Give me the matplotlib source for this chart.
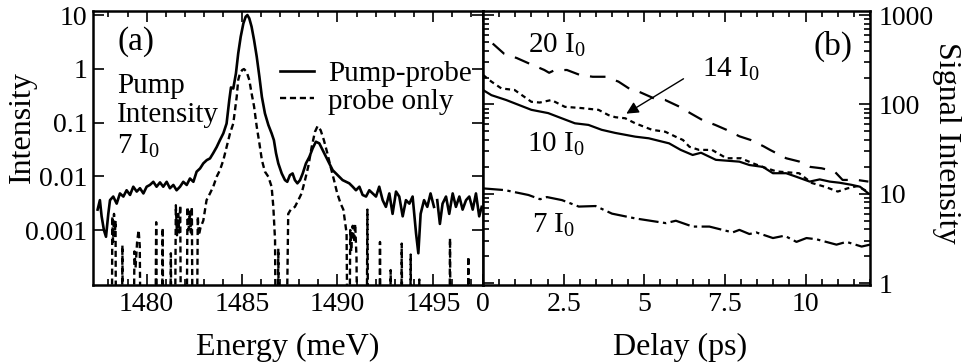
import numpy as np
import matplotlib
matplotlib.use('Agg')
import matplotlib.pyplot as plt
from matplotlib.ticker import FixedLocator, FixedFormatter, MultipleLocator, LogLocator, NullLocator, NullFormatter

plt.rcParams['font.family'] = ['Liberation Serif', 'DejaVu Serif']
plt.rcParams['mathtext.fontset'] = 'custom'
plt.rcParams['mathtext.rm'] = 'Liberation Serif'
plt.rcParams['mathtext.it'] = 'Liberation Serif:italic'

# --- (a) spectra: pump-probe (solid) ---
energy_pp = [1477.43, 1477.55, 1477.64, 1477.76, 1477.87, 1477.99, 1478.08, 1478.25, 1478.43, 1478.60,
             1478.78, 1478.95, 1479.13, 1479.30, 1479.48, 1479.65, 1479.83, 1480.00, 1480.17, 1480.35,
             1480.52, 1480.70, 1480.87, 1481.05, 1481.22, 1481.40, 1481.57, 1481.75, 1481.92, 1482.10,
             1482.27, 1482.45, 1482.62, 1482.80, 1482.97, 1483.15, 1483.32, 1483.49, 1483.67, 1483.84,
             1484.02, 1484.19, 1484.33, 1484.42, 1484.54, 1484.68, 1484.80, 1484.93, 1485.07, 1485.19,
             1485.28, 1485.38, 1485.50, 1485.63, 1485.77, 1485.91, 1486.04, 1486.20, 1486.38, 1486.55,
             1486.67, 1486.78, 1486.90, 1487.08, 1487.25, 1487.37, 1487.51, 1487.65, 1487.77, 1487.90,
             1488.04, 1488.18, 1488.35, 1488.53, 1488.70, 1488.87, 1489.05, 1489.22, 1489.40, 1489.57,
             1489.75, 1489.92, 1490.10, 1490.27, 1490.45, 1490.62, 1490.80, 1490.97, 1491.15, 1491.32,
             1491.50, 1491.67, 1491.85, 1492.02, 1492.19, 1492.37, 1492.54, 1492.72, 1492.89, 1493.07,
             1493.24, 1493.42, 1493.59, 1493.77, 1493.94, 1494.12, 1494.24, 1494.36, 1494.54, 1494.71,
             1494.88, 1495.06, 1495.15, 1495.23, 1495.37, 1495.51, 1495.69, 1495.86, 1496.04, 1496.21,
             1496.39, 1496.56, 1496.74, 1496.91, 1497.09, 1497.26, 1497.43, 1497.56]
int_pp = [0.0024, 0.0036, 0.0018, 0.0010, 0.00075, 0.0020, 0.0036, 0.0042, 0.0031, 0.0048,
          0.0042, 0.0055, 0.0045, 0.0064, 0.0052, 0.0060, 0.0048, 0.0064, 0.0069, 0.0079,
          0.0064, 0.0077, 0.0064, 0.0079, 0.0060, 0.0069, 0.0055, 0.0064, 0.0079, 0.0069,
          0.0091, 0.0079, 0.0122, 0.014, 0.0174, 0.020, 0.0215, 0.027, 0.035, 0.047,
          0.063, 0.096, 0.26, 0.45, 0.43, 0.82, 1.94, 3.95, 7.0, 9.3,
          10.0, 8.67, 6.07, 3.43, 1.68, 0.71, 0.30, 0.148, 0.090, 0.063,
          0.047, 0.027, 0.0174, 0.0113, 0.0085, 0.0079, 0.0105, 0.0113, 0.0085, 0.0074,
          0.0085, 0.0113, 0.0174, 0.023, 0.033, 0.044, 0.041, 0.031, 0.023, 0.0174,
          0.013, 0.0113, 0.0098, 0.0085, 0.0079, 0.0074, 0.0064, 0.0055, 0.0064, 0.0045,
          0.0042, 0.0055, 0.0048, 0.0042, 0.0064, 0.0036, 0.0027, 0.0048, 0.0020, 0.0052,
          0.0042, 0.0018, 0.0036, 0.0031, 0.0042, 0.00087, 0.00037, 0.0020, 0.0036, 0.0027,
          0.0048, 0.0027, np.nan, 0.0036, 0.0013, 0.0031, 0.0042, 0.0020, 0.0048, 0.0027,
          0.0042, 0.0024, 0.0036, 0.0042, 0.0024, 0.0048, 0.0018, 0.0027]

# --- (a) spectra: probe only (dashed); 1e-6 = below the plotted range ---
energy_probe = [1477.40, 1478.17, 1478.20, 1478.24, 1478.29, 1478.33, 1478.37, 1478.40,
                1478.70, 1478.73, 1478.76,
                1479.30, 1479.36, 1479.42, 1479.50, 1479.58, 1479.64, 1479.70,
                1480.44, 1480.50, 1480.56, 1480.79, 1480.84, 1480.88, 1481.22, 1481.27, 1481.31,
                1481.47, 1481.53, 1481.59, 1481.65, 1481.71, 1481.76, 1481.81,
                1482.08, 1482.14, 1482.20, 1482.26, 1482.32, 1482.37, 1482.42,
                1482.62, 1482.68, 1482.74, 1482.82, 1482.97, 1483.14, 1483.32, 1483.49, 1483.67,
                1483.84, 1484.02, 1484.19, 1484.37, 1484.54, 1484.63, 1484.72, 1484.80, 1484.89, 1485.01,
                1485.10, 1485.24, 1485.38, 1485.50, 1485.63, 1485.77, 1485.91, 1486.04, 1486.20, 1486.38,
                1486.55, 1486.64, 1486.73, 1486.78, 1486.86, 1486.90, 1486.95, 1487.30, 1487.42, 1487.55,
                1487.77, 1487.95, 1488.12, 1488.30, 1488.47, 1488.65, 1488.82, 1488.96, 1489.12, 1489.29,
                1489.47, 1489.64, 1489.82, 1489.99, 1490.17, 1490.31, 1490.39, 1490.48, 1490.54,
                1490.62, 1490.67, 1490.72, 1490.80, 1490.87, 1490.93, 1491.00, 1491.05,
                1491.52, 1491.57, 1491.62, 1492.19, 1492.23, 1492.27,
                1492.75, 1492.79, 1492.83, 1493.33, 1493.37, 1493.41, 1493.80, 1493.84, 1493.88, 1494.26,
                1494.29, 1494.32, 1495.86, 1495.90, 1495.94, 1496.82, 1496.86, 1496.90, 1497.60]
int_probe = [1e-6, 1e-6, 0.0018, 0.0006, 0.0020, 0.0008, 0.0015, 1e-6,
             1e-6, 0.00052, 1e-6,
             1e-6, 0.0004, 0.0002, 0.0006, 0.0010, 0.0005, 1e-6,
             1e-6, 0.0014, 1e-6, 1e-6, 0.0011, 1e-6, 1e-6, 0.00037, 1e-6,
             1e-6, 0.0029, 0.0008, 0.0020, 0.0009, 0.0029, 1e-6,
             1e-6, 0.0027, 0.0010, 0.0022, 0.0009, 0.0027, 1e-6,
             1e-6, 0.0018, 0.0008, 0.0011, 0.0015, 0.0036, 0.0048, 0.0064, 0.0098,
             0.013, 0.020, 0.035, 0.063, 0.096, 0.17, 0.30, 0.62, 0.82, 0.95,
             0.99, 0.88, 0.62, 0.35, 0.20, 0.084, 0.041, 0.020, 0.0122, 0.0098,
             0.0064, 0.0027, 0.00065, 1e-6, 1e-6, 0.00045, 1e-6, 1e-6, 0.0020, 0.0024,
             0.0027, 0.0036, 0.0048, 0.0085, 0.0151, 0.035, 0.067, 0.086, 0.072, 0.047,
             0.027, 0.0151, 0.0085, 0.0048, 0.0031, 0.0024, 0.0015, 0.00087, 1e-6,
             1e-6, 0.0010, 0.0004, 0.0012, 0.0006, 0.0013, 0.0003, 1e-6,
             1e-6, 0.0024, 1e-6, 1e-6, 0.0006, 1e-6,
             1e-6, 0.00018, 1e-6, 1e-6, 0.00056, 1e-6, 1e-6, 0.00035, 1e-6, 1e-6,
             0.00012, 1e-6, 1e-6, 0.0007, 1e-6, 1e-6, 0.00032, 1e-6, 1e-6]

# --- (b) signal vs delay ---
delay_20 = [0.3, 0.65, 1.05, 1.4, 1.9, 2.05, 2.2, 2.6, 3.0, 3.4, 3.8, 4.2, 4.6, 4.85, 5.3, 5.65,
            6.1, 6.45, 6.8, 7.2, 7.55, 7.95, 8.3, 8.7, 8.9, 9.4, 9.8, 10.15, 10.5, 10.9, 11.15, 11.6, 11.95]
sig_20 = [480, 370, 330, 290, 243, 226, 240, 243, 214, 204, 204, 180, 145, 138, 117, 112,
          94, 79, 67, 59, 52, 44, 40, 34, 31, 25, 23, 20, 19.3, 17.8, 14.3, 14.3, 13.7]

delay_14 = [0, 0.26, 0.57, 0.98, 1.5, 1.76, 2.12, 2.54, 3.06, 3.58, 3.89, 4.1, 4.41, 4.72, 5.24, 5.65,
            5.97, 6.2, 6.4, 6.7, 7.1, 7.55, 8.0, 8.36, 8.67, 9.1, 9.8, 10.2, 10.6, 11.0, 11.3, 11.6, 11.95]
sig_14 = [214, 180, 151, 145, 107, 105, 112, 94, 91, 87, 76, 72, 70, 61.5, 52, 49.5,
          43.6, 40, 33.6, 31, 31, 25, 25, 22, 20, 17.8, 17, 13.2, 12, 10.6, 11.5, 12.2, 10.5]

delay_10 = [0, 0.26, 0.72, 1.5, 2.02, 2.44, 2.85, 3.27, 3.68, 4.1, 4.72, 5.14, 5.55, 5.77, 6.13, 6.5,
            6.76, 7.22, 7.95, 8.26, 8.68, 8.99, 9.4, 9.72, 10.13, 10.44, 10.75, 11.06, 11.43, 11.69, 11.95]
sig_10 = [145, 127, 112, 87, 80, 70, 61.5, 59, 52, 48, 43.6, 41.8, 38.4, 36.7, 31, 27.2,
          28.8, 24, 22.9, 21, 20, 17, 17, 15.5, 13.7, 14.5, 13.7, 13.3, 12.6, 12, 10.1]

delay_7 = [0, 0.68, 1.41, 1.77, 1.98, 2.45, 2.97, 3.49, 4.0, 4.73, 5.67, 5.98, 6.5, 7.02, 7.74, 7.95,
           8.26, 8.47, 8.99, 9.35, 9.72, 10.03, 10.34, 10.96, 11.27, 11.74, 12.0]
sig_7 = [11.5, 11.0, 9.7, 8.7, 9.2, 8.5, 7.2, 7.3, 6.0, 5.3, 4.7, 5.0, 4.3, 4.3, 3.7, 3.95,
         3.55, 3.7, 3.2, 3.4, 2.9, 3.2, 3.1, 2.7, 2.9, 2.57, 2.7]

fig = plt.figure(figsize=(9.67, 3.63), dpi=100)
ax1 = fig.add_axes([0.0962, 0.2149, 0.4033, 0.7548])
ax2 = fig.add_axes([0.4995, 0.2149, 0.4002, 0.7548])

# === panel (a) ===
ax1.plot(energy_pp, int_pp, color='k', lw=1.9, label='Pump-probe')
ax1.plot(energy_probe, int_probe, color='k', lw=1.7, dashes=(2.6, 1.6), label='probe only')
ax1.set_yscale('log')
ax1.set_xlim(1477.19, 1497.63)
ax1.set_ylim(9.5e-5, 11.9)
ax1.xaxis.set_major_locator(FixedLocator([1480, 1485, 1490, 1495]))
ax1.xaxis.set_minor_locator(MultipleLocator(1))
ax1.yaxis.set_major_locator(FixedLocator([1e-3, 1e-2, 1e-1, 1, 10]))
ax1.yaxis.set_major_formatter(FixedFormatter(['0.001', '0.01', '0.1', '1', '10']))
ax1.yaxis.set_minor_locator(NullLocator())
ax1.tick_params(which='both', direction='in', top=True, right=True, width=1.2, labelsize=20)
ax1.tick_params(which='major', length=8)
ax1.tick_params(which='minor', length=4)
ax1.tick_params(axis='x', pad=5)
ax1.tick_params(axis='y', pad=4)

ax1.legend(loc='upper left', bbox_to_anchor=(0.48, 0.82), frameon=False, fontsize=21,
           handlelength=1.15, handletextpad=0.5, labelspacing=0.05, borderpad=0, borderaxespad=0)
ax1.text(0.0615, 0.858, '(a)', transform=ax1.transAxes, fontsize=24, va='baseline')
ax1.text(0.0615, 0.700, 'Pump', transform=ax1.transAxes, fontsize=21, va='baseline')
ax1.text(0.0615, 0.595, 'Intensity', transform=ax1.transAxes, fontsize=21, va='baseline')
ax1.text(0.0615, 0.478, r'7 $\mathrm{I_0}$', transform=ax1.transAxes, fontsize=21, va='baseline')

# === panel (b) ===
ax2.plot(delay_20, sig_20, color='k', lw=1.6, dashes=(7, 5))
ax2.plot(delay_14, sig_14, color='k', lw=1.6, dashes=(2.2, 1.8))
ax2.plot(delay_10, sig_10, color='k', lw=1.6)
ax2.plot(delay_7, sig_7, color='k', lw=1.6, dashes=(9, 2, 1.5, 2))
ax2.set_yscale('log')
ax2.set_xlim(0, 12)
ax2.set_ylim(0.955, 1110)
ax2.xaxis.set_major_locator(FixedLocator([0, 2.5, 5, 7.5, 10]))
ax2.xaxis.set_major_formatter(FixedFormatter(['0', '2.5', '5', '7.5', '10']))
ax2.xaxis.set_minor_locator(MultipleLocator(0.5))
ax2.yaxis.set_major_locator(FixedLocator([1, 10, 100, 1000]))
ax2.yaxis.set_major_formatter(FixedFormatter(['1', '10', '100', '1000']))
ax2.yaxis.set_minor_locator(LogLocator(base=10, subs=np.arange(2, 10)))
ax2.yaxis.set_minor_formatter(NullFormatter())
ax2.tick_params(which='both', direction='in', top=True, right=True, left=True,
                labelleft=False, labelright=True, width=1.2, labelsize=20)
ax2.tick_params(which='major', length=8)
ax2.tick_params(which='minor', length=4)
ax2.tick_params(axis='x', pad=5)
ax2.tick_params(axis='y', pad=6)

ax2.text(0.1163, 0.846, r'20 $\mathrm{I_0}$', transform=ax2.transAxes, fontsize=21, va='baseline')
ax2.text(0.566, 0.760, r'14 $\mathrm{I_0}$', transform=ax2.transAxes, fontsize=21, va='baseline')
ax2.text(0.1137, 0.487, r'10 $\mathrm{I_0}$', transform=ax2.transAxes, fontsize=21, va='baseline')
ax2.text(0.1266, 0.189, r'7 $\mathrm{I_0}$', transform=ax2.transAxes, fontsize=21, va='baseline')
ax2.text(0.853, 0.839, '(b)', transform=ax2.transAxes, fontsize=24, va='baseline')
ax2.annotate('', xy=(4.37, 76), xytext=(6.29, 201),
             arrowprops=dict(arrowstyle='-|>', color='k', lw=1.0, mutation_scale=18))

for ax in (ax1, ax2):
    for sp in ax.spines.values():
        sp.set_linewidth(1.8)

fig.text(22 / 967, 1 - 127 / 363, 'Intensity', rotation=90, ha='center', va='center', fontsize=23)
fig.text(947 / 967, 1 - 143 / 363, 'Signal Intensity', rotation=270, ha='center', va='center', fontsize=23)
fig.text(288 / 967, 1 - 347 / 363, 'Energy (meV)', ha='center', va='center', fontsize=23)
fig.text(680 / 967, 1 - 347 / 363, 'Delay (ps)', ha='center', va='center', fontsize=23)

fig.savefig('out.png', dpi=100)
